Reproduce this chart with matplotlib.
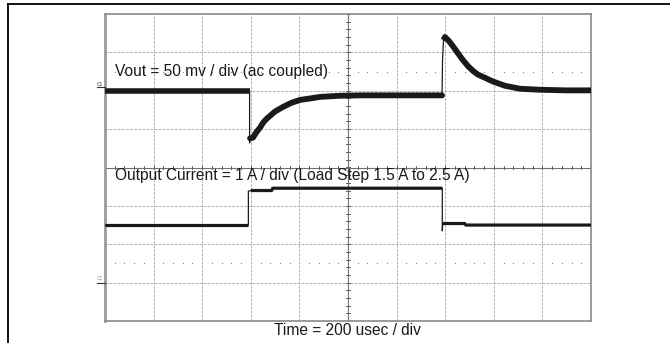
import matplotlib
matplotlib.use("Agg")
import matplotlib.pyplot as plt
from matplotlib.lines import Line2D
import numpy as np

plt.rcParams['font.family'] = ['Liberation Sans', 'DejaVu Sans']

# Ch1: Vout (ac coupled), time in usec, value in mV (50 mV/div)
vout_t = [0, 595, 595, 597, 609, 623, 638, 652, 667, 700, 733, 765, 802, 845, 885,
          967, 1049, 1200, 1387, 1389, 1393, 1399, 1415, 1432, 1452, 1473, 1494,
          1514, 1535, 1556, 1597, 1646, 1708, 1790, 1900, 2000]
vout_mv = [0, 0, -68, -62, -61, -54, -48, -41, -36, -27, -21, -16, -12, -10, -8,
           -6.5, -6, -6, -6, 40, 66, 70, 65, 58, 49, 40, 32,
           26, 21, 18, 12, 6.5, 2.6, 1.3, 0.5, 0.5]

# Ch2: output current in A (1 A/div), load step 1.5 A -> 2.5 A
iout_t = [0, 590, 590, 600, 686, 690, 1388, 1388, 1390, 1395, 1480, 1485, 2000]
iout_a = [1.5, 1.5, 2.38, 2.4, 2.4, 2.46, 2.46, 1.35, 1.54, 1.54, 1.54, 1.5, 1.5]

ch1_offset = 2.0     # divisions
ch2_offset = -3.0
vout_scale = 50.0    # mV/div
iout_scale = 1.0     # A/div

fig = plt.figure(figsize=(6.7, 3.43), dpi=100)
W, H = 670, 343
ax = fig.add_axes([105 / W, (H - 321) / H, 486 / W, 307 / H])
ax.set_xlim(0, 2000)
ax.set_ylim(-4, 4)
ax.set_xticks([])
ax.set_yticks([])
for s in ax.spines.values():
    s.set_color('#8a8a8a')
    s.set_linewidth(1.2)
ax.spines['left'].set_linewidth(2.0)
ax.spines['left'].set_color('#9a9a9a')

# graticule
for k in range(1, 10):
    ax.axvline(k * 200, color='#b4b4b4', lw=0.7, dashes=(3, 1.2), zorder=1)
for k in range(-3, 4):
    ax.axhline(k, color='#b4b4b4', lw=0.7, dashes=(3, 1.2), zorder=1)

# centre axes with minor ticks
ax.axvline(1000, color='#707070', lw=0.8, zorder=1.5)
ax.axhline(0, color='#707070', lw=0.8, zorder=1.5)
for yy in np.arange(-4, 4.01, 0.2):
    ax.plot([990, 1010], [yy, yy], color='#606060', lw=0.7, zorder=1.5)
for xx in np.arange(0, 2001, 40):
    ax.plot([xx, xx], [-0.05, 0.05], color='#606060', lw=0.7, zorder=1.5)

# dotted level lines
dots_x = [x for x in np.arange(40, 2000, 40) if x % 200 != 0]
for lvl in (2.5, -2.5):
    ax.plot(dots_x, [lvl] * len(dots_x), ls='none', marker='o', ms=0.9, mew=0,
            color='#8a8a8a', zorder=1.5)

# traces
v_div = [ch1_offset + v / vout_scale for v in vout_mv]
i_div = [ch2_offset + a / iout_scale for a in iout_a]
ax.plot(vout_t, v_div, color='#1a1a1a', lw=0.9, zorder=3)
ax.plot(vout_t[:2], v_div[:2], color='#1a1a1a', lw=4.0, solid_capstyle='butt', zorder=3)
ax.plot(vout_t[3:19], v_div[3:19], color='#1a1a1a', lw=4.2, solid_capstyle='round', zorder=3)
ax.plot(vout_t[20:], v_div[20:], color='#1a1a1a', lw=4.2, solid_capstyle='butt', zorder=3)

ax.plot(iout_t, i_div, color='#1a1a1a', lw=0.9, zorder=3)
ax.plot(iout_t[:2], i_div[:2], color='#1a1a1a', lw=2.3, solid_capstyle='butt', zorder=3)
ax.plot(iout_t[3:7], i_div[3:7], color='#1a1a1a', lw=2.3, solid_capstyle='butt', zorder=3)
ax.plot(iout_t[8:], i_div[8:], color='#1a1a1a', lw=2.3, solid_capstyle='butt', zorder=3)

# labels
ax.text(41, 2.39, 'Vout = 50 mv / div (ac coupled)', fontsize=11.2, color='#1a1a1a',
        va='baseline', ha='left', zorder=4)
ax.text(41, -0.32, 'Output Current = 1 A / div (Load Step 1.5 A to 2.5 A)', fontsize=11.2,
        color='#1a1a1a', va='baseline', ha='left', zorder=4)
fig.text(347 / W, (H - 335) / H, 'Time = 200 usec / div', fontsize=11.2, color='#1a1a1a',
         ha='center', va='baseline')

# channel ground markers
fig.text(97 / W, (H - 86) / H, 'C1', fontsize=3.5, color='#333333', ha='left', va='baseline')
fig.add_artist(Line2D([97 / W, 105 / W], [(H - 87.5) / H] * 2, color='#333333', lw=0.8))
fig.text(97 / W, (H - 280) / H, 'C2', fontsize=3.5, color='#999999', ha='left', va='baseline')
fig.add_artist(Line2D([97 / W, 105 / W], [(H - 282.5) / H] * 2, color='#333333', lw=0.8))

# outer frame (top and left)
fig.add_artist(Line2D([8 / W, 1.0], [(H - 4) / H] * 2, color='black', lw=1.3))
fig.add_artist(Line2D([8 / W, 8 / W], [0, (H - 4) / H], color='black', lw=1.3))

fig.savefig('out.png', dpi=100)
